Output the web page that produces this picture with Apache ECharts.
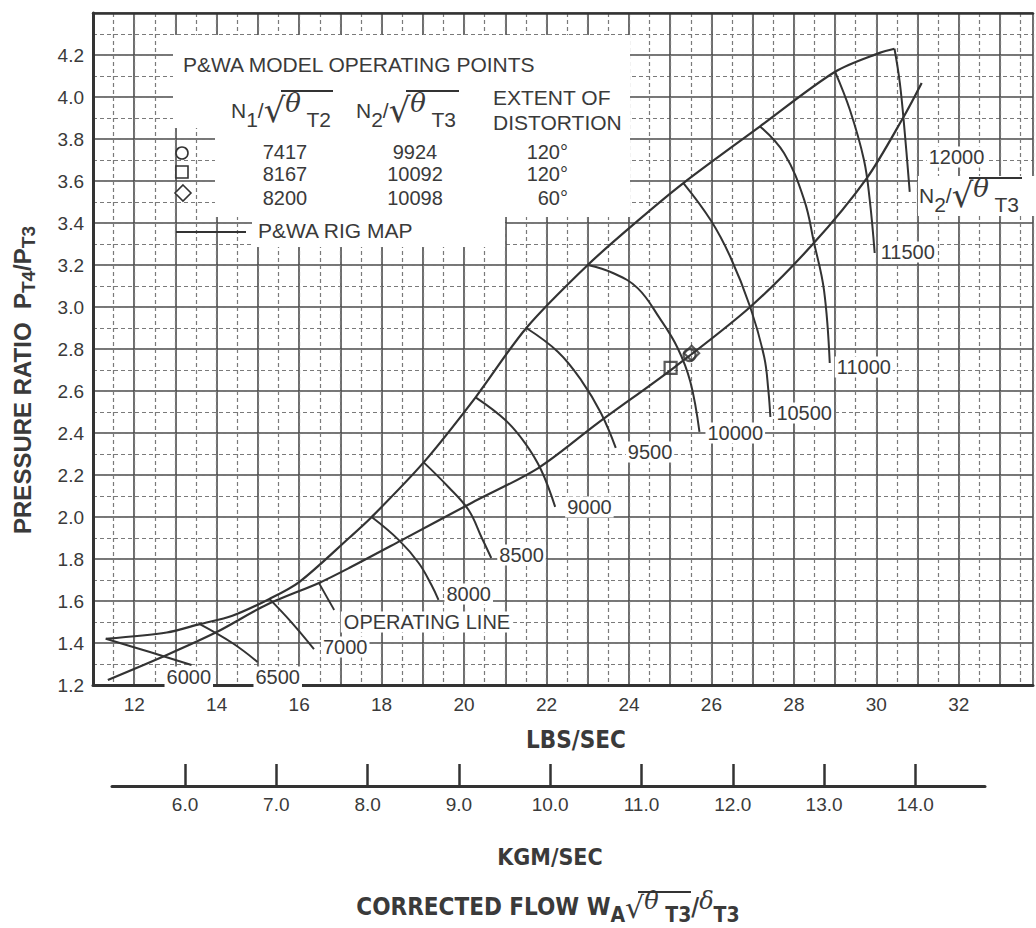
<!DOCTYPE html>
<html><head><meta charset="utf-8">
<script src="https://cdn.jsdelivr.net/npm/echarts@6/dist/echarts.min.js"></script>
<style>html,body{margin:0;padding:0;background:#fff}#c{width:1036px;height:928px}</style>
</head><body><div id="c"></div>
<script>
// ---------- data ----------
const lbsTicks = [12, 14, 16, 18, 20, 22, 24, 26, 28, 30, 32];
const prTicks = [1.2, 1.4, 1.6, 1.8, 2.0, 2.2, 2.4, 2.6, 2.8, 3.0, 3.2, 3.4, 3.6, 3.8, 4.0, 4.2];
const kgTicks = [6, 7, 8, 9, 10, 11, 12, 13, 14];

// surge line (P&WA rig map upper boundary)
const surgeX = [11.31, 12.79, 13.59, 14.38, 15.28, 16.0, 17.21, 17.76, 19.02, 20.28, 21.51, 23.0, 24.21, 25.32, 27.18, 29.0, 30.08, 30.44];
const surgeY = [1.42, 1.45, 1.49, 1.53, 1.61, 1.69, 1.90, 2.0, 2.26, 2.57, 2.90, 3.20, 3.41, 3.59, 3.86, 4.12, 4.21, 4.23];

// operating line
const opX = [11.36, 12.79, 14.0, 15.2, 16.48, 17.21, 18.49, 20.18, 21.8, 23.25, 25.11, 26.94, 28.44, 29.77, 30.66, 31.1];
const opY = [1.224, 1.343, 1.452, 1.581, 1.686, 1.757, 1.890, 2.067, 2.233, 2.448, 2.714, 3.0, 3.295, 3.614, 3.905, 4.067];
const opArrow = [[16.85, 1.557], [16.48, 1.686]];

// corrected speed lines N2/sqrt(theta T3)
const spd6000 = [[11.31, 1.42], [12.38, 1.357], [13.39, 1.295]];
const spd6500 = [[13.59, 1.49], [14.38, 1.40], [14.99, 1.31]];
const spd7000 = [[15.28, 1.61], [15.83, 1.495], [16.36, 1.371]];
const spd8000 = [[17.76, 2.0], [18.42, 1.89], [18.90, 1.781], [19.21, 1.676], [19.38, 1.605]];
const spd8500 = [[19.02, 2.26], [19.62, 2.143], [20.11, 2.033], [20.42, 1.905], [20.66, 1.805]];
const spd9000 = [[20.28, 2.57], [21.0, 2.462], [21.48, 2.352], [21.87, 2.224], [22.21, 2.048]];
const spd9500 = [[21.51, 2.90], [22.28, 2.786], [22.84, 2.652], [23.32, 2.495], [23.68, 2.329]];
const spd10000 = [[23.0, 3.20], [23.61, 3.162], [24.21, 3.090], [24.74, 2.948], [25.18, 2.805], [25.49, 2.643], [25.71, 2.405]];
const spd10500 = [[25.32, 3.59], [25.98, 3.414], [26.46, 3.238], [26.94, 3.0], [27.28, 2.762], [27.38, 2.605], [27.43, 2.476]];
const spd11000 = [[27.18, 3.86], [27.76, 3.733], [28.25, 3.51], [28.49, 3.305], [28.73, 3.081], [28.87, 2.733]];
const spd11500 = [[29.0, 4.12], [29.36, 3.938], [29.70, 3.70], [29.84, 3.51], [29.96, 3.257]];
const spd12000 = [[30.44, 4.23], [30.57, 4.067], [30.69, 3.829], [30.81, 3.548]];
const speedNames = ['6000', '6500', '7000', '8000', '8500', '9000', '9500', '10000', '10500', '11000', '11500', '12000'];
const speedData = [spd6000, spd6500, spd7000, spd8000, spd8500, spd9000, spd9500, spd10000, spd10500, spd11000, spd11500, spd12000];

// P&WA model operating points
const pointN1 = ['7417', '8167', '8200'];
const pointN2 = ['9924', '10092', '10098'];
const pointDist = ['120°', '120°', '60°'];
const pointX = [25.47, 25.01, 25.52];
const pointY = [2.771, 2.710, 2.780];
const pointSymbols = ['circle', 'rect', 'diamond'];

// ---------- styles ----------
const F = "'Liberation Sans', Arial, sans-serif";
const FN = "'Liberation Sans Narrow', 'DejaVu Sans Condensed', 'Liberation Sans', sans-serif";
const FR = "'DejaVu Sans', sans-serif";
const INK = '#333';
const TXT = '#3a3a3a';
const labelOffsets = {
  '6000': [-27, 12], '6500': [-4, 15], '7000': [7, -2], '8000': [6, -6], '8500': [6, -3],
  '9000': [10, 0], '9500': [10, 4], '10000': [6, 1], '10500': [4, -4], '11000': [5, 4],
  '11500': [4, -1], '12000': [17, -35]
};

const chart = echarts.init(document.getElementById('c'), null, { renderer: 'svg' });

const xMin = 11, xMax = 33.8, yMin = 1.2, yMax = 4.4;

const series = [];
series.push({
  name: 'surge', type: 'line', xAxisIndex: 0, yAxisIndex: 0,
  data: surgeX.map((x, i) => [x, surgeY[i]]),
  showSymbol: false, smooth: 0.3, lineStyle: { color: INK, width: 2.2 }, z: 3
});
series.push({
  name: 'op', type: 'line', xAxisIndex: 0, yAxisIndex: 0,
  data: opX.map((x, i) => [x, opY[i]]),
  showSymbol: false, smooth: 0.3, lineStyle: { color: INK, width: 2.2 }, z: 3,
  markLine: {
    silent: true, symbol: ['none', 'arrow'], symbolSize: [0, 11], animation: false,
    lineStyle: { color: INK, width: 1.8, type: 'solid' }, label: { show: false },
    data: [[{ coord: opArrow[0] }, { coord: opArrow[1] }]]
  }
});
speedNames.forEach((nm, k) => {
  series.push({
    name: nm, type: 'line', xAxisIndex: 0, yAxisIndex: 0,
    data: speedData[k], showSymbol: false, smooth: 0.4,
    lineStyle: { color: INK, width: 2 }, z: 3,
    endLabel: {
      show: true, formatter: '{a}', distance: 0, offset: labelOffsets[nm],
      align: 'left', verticalAlign: 'middle',
      color: TXT, fontFamily: F, fontSize: 20,
      backgroundColor: '#fff', padding: [1, 2, 0, 2]
    }
  });
});
pointSymbols.forEach((sym, i) => {
  series.push({
    name: 'pt' + i, type: 'scatter', xAxisIndex: 0, yAxisIndex: 0,
    data: [[pointX[i], pointY[i]]], symbol: sym, symbolSize: sym === 'diamond' ? 15 : 12,
    itemStyle: { color: 'rgba(255,255,255,0)', borderColor: INK, borderWidth: 2.2 }, z: 4
  });
});

// legend table (drawn from the point arrays)
const rowY = [152, 174, 198];
const g = [];
g.push({ type: 'rect', z: 10, shape: { x: 173, y: 35, width: 457, height: 93 }, style: { fill: '#fff' } });
g.push({ type: 'rect', z: 10, shape: { x: 215, y: 127, width: 415, height: 90 }, style: { fill: '#fff' } });
g.push({ type: 'rect', z: 10, shape: { x: 252, y: 215, width: 253, height: 32 }, style: { fill: '#fff' } });

function txt(x, y, text, opt) {
  return {
    type: 'text', z: 12, x: x, y: y,
    style: Object.assign({
      text: text, fill: TXT, font: '20px ' + F,
      align: 'left', verticalAlign: 'middle', textAlign: 'left', textVerticalAlign: 'middle'
    }, opt || {})
  };
}
function hline(x1, x2, y, w) {
  return { type: 'line', z: 12, shape: { x1: x1, y1: y, x2: x2, y2: y }, style: { stroke: INK, lineWidth: w || 2 } };
}
const richN = {
  n: { fontSize: 21, fontFamily: F, fill: TXT, color: TXT, lineHeight: 36, verticalAlign: 'middle' },
  s: { fontSize: 21, fontFamily: F, fill: TXT, color: TXT, lineHeight: 20, verticalAlign: 'bottom' },
  r: { fontSize: 34, fontFamily: FR, fill: TXT, color: TXT, lineHeight: 40, verticalAlign: 'middle' },
  t: { fontSize: 26, fontFamily: 'DejaVu Serif, serif', fontStyle: 'italic', fill: TXT, color: TXT, lineHeight: 30, verticalAlign: 'top' }
};

g.push(txt(183, 64, 'P&WA MODEL OPERATING POINTS', { font: '21px ' + F }));
g.push(txt(231, 110, '{n|N}{s|1}{n|/}{r|√}{t|θ}{s| T2}', { rich: richN }));
g.push(hline(281, 333, 91, 2));
g.push(txt(356, 110, '{n|N}{s|2}{n|/}{r|√}{t|θ}{s| T3}', { rich: richN }));
g.push(hline(406, 459, 91, 2));
g.push(txt(493, 97, 'EXTENT OF', { font: '21px ' + F }));
g.push(txt(493, 122, 'DISTORTION', { font: '21px ' + F }));
pointN1.forEach((v, i) => {
  g.push(txt(285, rowY[i], v, { align: 'center', textAlign: 'center' }));
  g.push(txt(415, rowY[i], pointN2[i], { align: 'center', textAlign: 'center' }));
  g.push(txt(568, rowY[i], pointDist[i], { align: 'right', textAlign: 'right' }));
});
g.push({ type: 'circle', z: 12, shape: { cx: 182, cy: 153, r: 6 }, style: { fill: '#fff', stroke: INK, lineWidth: 1.6 } });
g.push({ type: 'rect', z: 12, shape: { x: 176, y: 166, width: 12, height: 12 }, style: { fill: '#fff', stroke: INK, lineWidth: 1.6 } });
g.push({ type: 'polygon', z: 12, shape: { points: [[183, 185], [191, 193], [183, 201], [175, 193]] }, style: { fill: '#fff', stroke: INK, lineWidth: 1.6 } });
g.push(hline(176, 246, 232, 2));
g.push(txt(258, 230, 'P&WA RIG MAP', { font: '21px ' + F }));

g.push(txt(427, 622, 'OPERATING LINE', { font: '20px ' + F, align: 'center', textAlign: 'center', backgroundColor: '#fff', padding: [1, 3, 0, 3] }));

// N2 label near the 12000 line
g.push({ type: 'rect', z: 10, shape: { x: 918, y: 176, width: 118, height: 40 }, style: { fill: '#fff' } });
g.push(txt(919, 195, '{n|N}{s|2}{n|/}{r|√}{t|θ}{s| T3}', { rich: richN }));
g.push(hline(969, 1022, 178, 2));

// y-axis title (rotated)
const richY = {
  a: { fontSize: 24, fontWeight: 'bold', fontFamily: F, fill: TXT, color: TXT, lineHeight: 32, verticalAlign: 'middle' },
  s: { fontSize: 19, fontWeight: 'bold', fontFamily: F, fill: TXT, color: TXT, lineHeight: 18, verticalAlign: 'bottom' }
};
g.push({
  type: 'text', z: 12, x: 22, y: 380, rotation: Math.PI / 2,
  style: { text: '{a|PRESSURE RATIO  P}{s|T4}{a|/P}{s|T3}', rich: richY, align: 'center', verticalAlign: 'middle', textAlign: 'center', textVerticalAlign: 'middle' }
});

// bottom titles
g.push(txt(576, 740, 'LBS/SEC', { font: 'bold 24px ' + FN, align: 'center', textAlign: 'center' }));
g.push(txt(550, 857, 'KGM/SEC', { font: 'bold 23px ' + FN, align: 'center', textAlign: 'center' }));
const richT = {
  b: { fontSize: 24, fontWeight: 'bold', fontFamily: FN, fill: TXT, color: TXT, lineHeight: 36, verticalAlign: 'middle' },
  s: { fontSize: 21, fontWeight: 'bold', fontFamily: FN, fill: TXT, color: TXT, lineHeight: 18, verticalAlign: 'bottom' },
  r: { fontSize: 30, fontFamily: FR, fill: TXT, color: TXT, lineHeight: 36, verticalAlign: 'middle' },
  t: { fontSize: 24, fontFamily: 'DejaVu Serif, serif', fontStyle: 'italic', fill: TXT, color: TXT, lineHeight: 28, verticalAlign: 'top' }
};
g.push(txt(548, 907, '{b|CORRECTED FLOW W}{s|A}{r|√}{t|θ}{s| T3}{b|/}{t|δ}{s|T3}', { rich: richT, align: 'center', textAlign: 'center' }));
g.push(hline(638, 691, 892, 1.8));

const solidSplit = { show: true, lineStyle: { color: '#4a4a4a', width: 1.6, type: 'solid' } };
const dashSplit = { show: true, lineStyle: { color: '#7a7a7a', width: 1.2, type: [4, 3] } };

chart.setOption({
  animation: false,
  backgroundColor: '#fff',
  grid: [
    { left: 93, top: 13, width: 944, height: 672, containLabel: false },
    { left: 112, top: 785, width: 873, height: 1, containLabel: false }
  ],
  xAxis: [
    {
      type: 'value', gridIndex: 0, min: xMin, max: xMax, interval: 1, position: 'bottom',
      axisLine: { show: true, onZero: false, lineStyle: { color: INK, width: 3 } },
      axisTick: { show: false },
      axisLabel: {
        margin: 10, color: TXT, fontFamily: F, fontSize: 19,
        formatter: v => (lbsTicks.indexOf(Math.round(v * 100) / 100) >= 0 ? String(Math.round(v)) : '')
      },
      splitLine: solidSplit
    },
    {
      type: 'value', gridIndex: 0, min: xMin, max: xMax, interval: 0.5, position: 'top',
      axisLine: { show: true, onZero: false, lineStyle: { color: INK, width: 2.5 } },
      axisTick: { show: false }, axisLabel: { show: false },
      splitLine: dashSplit
    },
    {
      type: 'value', gridIndex: 1, min: 5.2, max: 14.763, position: 'bottom',
      axisLine: { show: true, onZero: false, lineStyle: { color: INK, width: 3 } },
      axisTick: { show: true, inside: true, length: 22, customValues: kgTicks, lineStyle: { color: INK, width: 2.5 } },
      axisLabel: { show: true, customValues: kgTicks, margin: 9, color: TXT, fontFamily: F, fontSize: 19, formatter: v => v.toFixed(1) },
      splitLine: { show: false }
    }
  ],
  yAxis: [
    {
      type: 'value', gridIndex: 0, min: yMin, max: yMax, interval: 0.2, position: 'left',
      axisLine: { show: true, onZero: false, lineStyle: { color: INK, width: 3 } },
      axisTick: { show: false },
      axisLabel: {
        margin: 9, color: TXT, fontFamily: F, fontSize: 19,
        formatter: v => (prTicks.indexOf(Math.round(v * 10) / 10) >= 0 ? v.toFixed(1) : '')
      },
      splitLine: solidSplit
    },
    {
      type: 'value', gridIndex: 0, min: yMin, max: yMax, interval: 0.1, position: 'left',
      axisLine: { show: false }, axisTick: { show: false }, axisLabel: { show: false },
      splitLine: dashSplit
    },
    { type: 'value', gridIndex: 1, min: 0, max: 1, show: false }
  ],
  series: series,
  graphic: { elements: g }
});
</script>
</body></html>
